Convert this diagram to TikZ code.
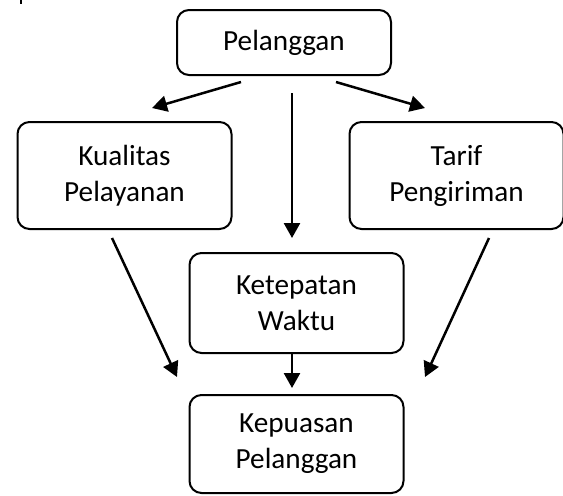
\documentclass[tikz,border=0pt]{standalone}
\usepackage{fontspec}
\setmainfont{Carlito}
\usepackage{tikz}
\usetikzlibrary{arrows.meta}

\begin{document}
\begin{tikzpicture}[x=0.5pt,y=-0.5pt,
	kotak/.style={draw, line width=1pt, rounded corners=6pt, align=center,
		minimum width=107pt, font=\fontsize{14.6}{18}\selectfont},
	panah/.style={line width=1.25pt, -{Triangle[length=7.5pt,width=8pt]}}]
	\useasboundingbox (0,0) rectangle (563,495);
	\draw[line width=1pt] (21,0) -- (21,4);
	\node[kotak, minimum height=32.5pt] (pel) at (284,42.5) {Pelanggan};
	\node[kotak, minimum height=53.5pt] (kual) at (124.5,175.5) {Kualitas\\Pelayanan};
	\node[kotak, minimum height=53.5pt] (tarif) at (456.5,175.5) {Tarif\\Pengiriman};
	\node[kotak, minimum height=50pt] (ket) at (296.5,303) {Ketepatan\\Waktu};
	\node[kotak, minimum height=49pt] (kep) at (296.5,444) {Kepuasan\\Pelanggan};
	\coordinate (p1) at (241,82);
	\coordinate (p2) at (292,93);
	\coordinate (p3) at (336,82);
	\coordinate (q1) at (152,108);
	\coordinate (q2) at (292,238);
	\coordinate (q3) at (425,108);
	\coordinate (r1) at (112,238);
	\coordinate (r2) at (489,238);
	\coordinate (s1) at (177,377);
	\coordinate (s2) at (425,377);
	\coordinate (s3) at (292,388);
	\draw[panah] (p1) -- (q1);
	\draw[panah] (p2) -- (q2);
	\draw[panah] (p3) -- (q3);
	\draw[panah] (r1) -- (s1);
	\draw[panah] (r2) -- (s2);
	\draw[panah] (ket.south -| s3) -- (s3);
\end{tikzpicture}
\end{document}
